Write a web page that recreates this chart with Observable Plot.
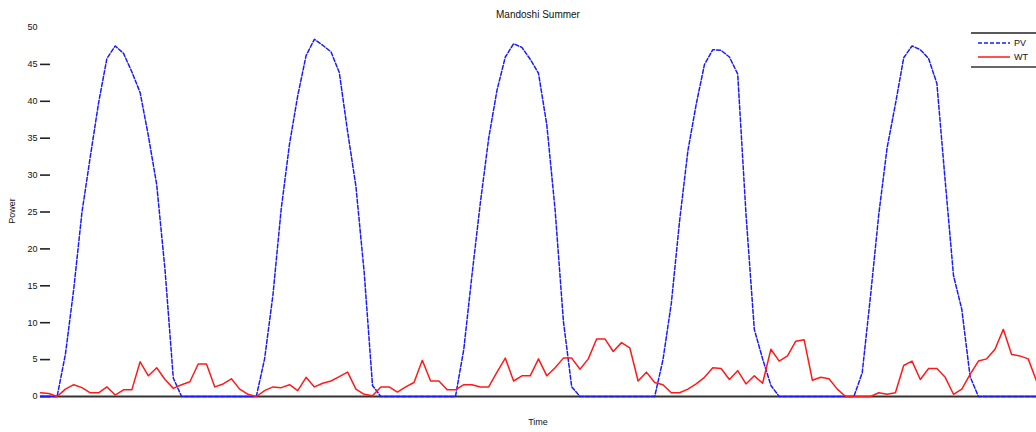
<!DOCTYPE html>
<html>
<head>
<meta charset="utf-8">
<script src="https://cdn.jsdelivr.net/npm/d3@7"></script>
<script src="https://cdn.jsdelivr.net/npm/@observablehq/plot@0.6"></script>
<style>
  html, body { margin: 0; padding: 0; background: #fff; }
  #wrap { position: relative; width: 1036px; height: 432px; font-family: "Liberation Sans", Arial, sans-serif; color: #111; }
  .title { position: absolute; left: 40px; width: 996px; top: 9px; text-align: center; font-size: 10px; }
  .xlabel { position: absolute; left: 40px; width: 996px; top: 417px; text-align: center; font-size: 9px; }
  .ylabel { position: absolute; left: 12px; top: 211px; font-size: 9px; transform: translate(-50%, -50%) rotate(-90deg); }
  .legend { position: absolute; left: 970px; top: 31px; }
</style>
</head>
<body>
<div id="wrap">
  <div id="chart"></div>
  <div class="title">Mandoshi Summer</div>
  <div class="xlabel">Time</div>
  <div class="ylabel">Power</div>
  <svg class="legend" width="66" height="40" font-family="Liberation Sans, Arial, sans-serif" font-size="9">
    <line x1="1" x2="66" y1="2" y2="2" stroke="#222" stroke-width="1.5"/>
    <line x1="8" x2="40" y1="12" y2="12" stroke="#1a1aff" stroke-width="1.5" stroke-dasharray="4,2"/>
    <text x="44" y="15" fill="#111">PV</text>
    <line x1="8" x2="40" y1="26" y2="26" stroke="#ff1a1a" stroke-width="1.5"/>
    <text x="44" y="29" fill="#111">WT</text>
    <line x1="1" x2="66" y1="36" y2="36" stroke="#333" stroke-width="1.5"/>
  </svg>
</div>
<script>
// Hourly values over five summer days (hour 0..120)
const PV = [
  0,0,0,5.7,14.5,25,32.5,39.8,45.8,47.5,
  46.5,44,41.2,35.3,28.7,17.2,2.5,0,0,0,
  0,0,0,0,0,0,0,5.1,13.7,25.4,
  34.2,40.8,46.2,48.4,47.6,46.7,43.9,35.9,28.5,16.8,
  1.5,0,0,0,0,0,0,0,0,0,
  0,6.4,16.6,26.3,35,41.5,46,47.8,47.3,45.7,
  43.8,36.8,25.3,10.2,1.3,0,0,0,0,0,
  0,0,0,0,0,5,12.6,23.8,33.3,39.6,
  45,47,46.9,46,43.7,24.7,9.1,5.1,1.5,0,
  0,0,0,0,0,0,0,0,0,3.2,
  13.6,24.7,33.7,39.6,45.9,47.5,47,45.8,42.4,29.2,
  16.4,11.8,2.7,0,0,0,0,0,0,0,
  0
];
const WT = [
  0.5,0.4,0,1.0,1.6,1.2,0.5,0.5,1.3,0.2,
  0.9,0.9,4.7,2.8,3.9,2.3,1.1,1.6,2.0,4.4,
  4.4,1.3,1.7,2.4,1.0,0.3,0,0.8,1.3,1.2,
  1.6,0.8,2.6,1.3,1.8,2.1,2.7,3.3,1.0,0.3,
  0.1,1.3,1.3,0.6,1.3,1.9,4.9,2.1,2.1,0.9,
  0.9,1.6,1.6,1.3,1.3,3.3,5.2,2.1,2.8,2.8,
  5.1,2.8,3.9,5.2,5.2,3.7,5.1,7.8,7.8,6.1,
  7.3,6.6,2.1,3.3,1.9,1.6,0.5,0.5,1.0,1.7,
  2.6,3.9,3.8,2.3,3.5,1.7,2.8,1.8,6.4,4.8,
  5.5,7.5,7.7,2.2,2.6,2.4,1.0,0,0,0,
  0,0.5,0.3,0.5,4.2,4.8,2.3,3.8,3.8,2.6,
  0.3,1.0,3.0,4.8,5.1,6.4,9.1,5.7,5.5,5.1,
  2.1
];
const HOURS = d3.range(PV.length);
const Y_TICK_LABELS = [0,5,10,15,20,25,30,35,40,45,50];
const Y_TICK_MARKS = [0,5,10,15,20,25,30,35,40,45];

const rows = HOURS.map((t, i) => ({t, pv: PV[i], wt: WT[i]}));

const chart = Plot.plot({
  width: 1036,
  height: 432,
  marginLeft: 40,
  marginRight: 0,
  marginTop: 27,
  marginBottom: 36,
  style: {fontFamily: "Liberation Sans, Arial, sans-serif", fontSize: "9px", background: "white", overflow: "visible", color: "#111"},
  x: {domain: [0, 120], axis: null},
  y: {domain: [0, 50], axis: null},
  marks: [
    Plot.axisY(Y_TICK_LABELS, {tickSize: 0, tickPadding: 3, label: null, fontSize: 9}),
    Plot.axisY(Y_TICK_MARKS, {tickSize: -10, tickFormat: () => "", label: null, stroke: "#222", strokeWidth: 1.6}),
    Plot.ruleY([0], {stroke: "#333", strokeWidth: 2}),
    Plot.line(rows, {x: "t", y: "pv", stroke: "#1a1aff", strokeWidth: 1.5, strokeDasharray: "4,2"}),
    Plot.line(rows, {x: "t", y: "wt", stroke: "#ff1a1a", strokeWidth: 1.5})
  ]
});
document.getElementById("chart").appendChild(chart);
</script>
</body>
</html>
